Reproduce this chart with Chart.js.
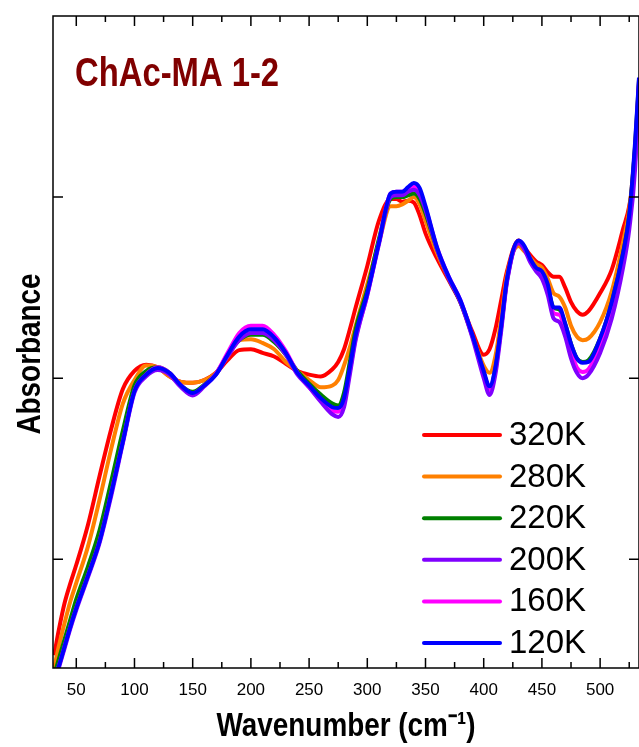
<!DOCTYPE html>
<html>
<head>
<meta charset="utf-8">
<script src="https://cdn.jsdelivr.net/npm/chart.js@4.4.1/dist/chart.umd.min.js"></script>
<style>
  html, body { margin: 0; padding: 0; background: #fff; }
  #wrap { width: 639px; height: 747px; }
</style>
</head>
<body>
<div id="wrap"><canvas id="chart"></canvas></div>
<script>
// Data (y in arbitrary absorbance units)
const wavenumber = [31, 35, 40, 45, 50, 60, 70, 80, 90, 100, 110, 120, 130, 140, 150, 160, 170, 180, 190, 200,
  210, 220, 230, 240, 250, 260, 270, 275, 280, 285, 290, 300, 310, 320, 325, 330, 335, 340, 345, 350,
  360, 370, 380, 390, 400, 405, 410, 415, 420, 430, 435, 440, 445, 450, 455, 460, 465, 470, 475, 480,
  485, 490, 500, 510, 520, 525, 530, 533.4];

const abs320K = [0.47, 0.61, 0.76, 0.87, 0.97, 1.19, 1.46, 1.72, 1.94, 2.04, 2.075, 2.06, 2.01, 1.98, 1.975, 1.99, 2.03, 2.10, 2.155, 2.16,
  2.14, 2.12, 2.08, 2.04, 2.02, 2.01, 2.05, 2.09, 2.16, 2.27, 2.39, 2.62, 2.87, 2.99, 2.99, 2.975, 2.98, 2.97, 2.90, 2.80,
  2.66, 2.54, 2.42, 2.26, 2.13, 2.16, 2.27, 2.43, 2.59, 2.76, 2.72, 2.68, 2.645, 2.625, 2.585, 2.56, 2.56, 2.50, 2.42, 2.37,
  2.35, 2.37, 2.47, 2.60, 2.83, 2.95, 3.20, 3.60];
const abs280K = [0.40, 0.52, 0.65, 0.77, 0.87, 1.07, 1.33, 1.61, 1.86, 1.99, 2.07, 2.06, 2.01, 1.98, 1.975, 1.99, 2.03, 2.12, 2.21, 2.215,
  2.195, 2.16, 2.09, 2.04, 1.99, 1.95, 1.96, 1.99, 2.07, 2.17, 2.29, 2.52, 2.75, 2.95, 2.95, 2.96, 2.98, 3.00, 2.96, 2.87,
  2.69, 2.55, 2.42, 2.24, 2.07, 2.03, 2.12, 2.33, 2.57, 2.73, 2.70, 2.665, 2.63, 2.61, 2.55, 2.47, 2.45, 2.39, 2.29, 2.23,
  2.21, 2.22, 2.31, 2.48, 2.76, 2.93, 3.27, 3.63];
const abs220K = [0.36, 0.45, 0.56, 0.67, 0.78, 0.96, 1.16, 1.43, 1.71, 1.96, 2.04, 2.06, 2.03, 1.96, 1.925, 1.965, 2.025, 2.13, 2.21, 2.24,
  2.24, 2.20, 2.13, 2.04, 1.97, 1.91, 1.86, 1.85, 1.92, 2.09, 2.27, 2.49, 2.77, 2.99, 3.00, 3.00, 3.01, 3.02, 2.99, 2.91,
  2.71, 2.55, 2.42, 2.24, 2.03, 1.945, 2.05, 2.28, 2.54, 2.75, 2.72, 2.65, 2.60, 2.58, 2.50, 2.39, 2.38, 2.30, 2.19, 2.11,
  2.09, 2.10, 2.22, 2.42, 2.70, 2.90, 3.28, 3.65];
const abs200K = [0.32, 0.40, 0.51, 0.62, 0.72, 0.90, 1.09, 1.35, 1.64, 1.92, 2.01, 2.045, 2.02, 1.95, 1.905, 1.955, 2.02, 2.12, 2.21, 2.25,
  2.25, 2.21, 2.13, 2.02, 1.95, 1.87, 1.80, 1.786, 1.84, 2.02, 2.21, 2.46, 2.74, 3.00, 3.01, 3.01, 3.03, 3.04, 3.01, 2.93,
  2.71, 2.55, 2.42, 2.23, 2.00, 1.907, 2.02, 2.26, 2.53, 2.745, 2.71, 2.64, 2.59, 2.55, 2.46, 2.33, 2.31, 2.23, 2.11, 2.03,
  2.00, 2.02, 2.14, 2.33, 2.62, 2.82, 3.15, 3.62];
const abs160K = [0.33, 0.41, 0.52, 0.63, 0.73, 0.91, 1.10, 1.365, 1.65, 1.93, 2.02, 2.06, 2.03, 1.96, 1.915, 1.96, 2.025, 2.14, 2.25, 2.29,
  2.29, 2.24, 2.15, 2.03, 1.95, 1.88, 1.82, 1.815, 1.87, 2.04, 2.22, 2.46, 2.75, 3.02, 3.03, 3.03, 3.05, 3.06, 3.03, 2.94,
  2.72, 2.56, 2.43, 2.24, 2.02, 1.93, 2.04, 2.28, 2.54, 2.75, 2.72, 2.65, 2.60, 2.57, 2.49, 2.36, 2.35, 2.27, 2.15, 2.06,
  2.035, 2.05, 2.18, 2.38, 2.66, 2.86, 3.24, 3.64];
const abs120K = [0.33, 0.41, 0.52, 0.63, 0.73, 0.91, 1.10, 1.365, 1.65, 1.93, 2.02, 2.057, 2.03, 1.96, 1.918, 1.96, 2.02, 2.13, 2.23, 2.27,
  2.27, 2.225, 2.14, 2.03, 1.96, 1.89, 1.84, 1.835, 1.89, 2.06, 2.24, 2.47, 2.75, 3.02, 3.03, 3.03, 3.055, 3.078, 3.05, 2.95,
  2.72, 2.56, 2.43, 2.245, 2.04, 1.955, 2.06, 2.29, 2.55, 2.76, 2.73, 2.66, 2.61, 2.59, 2.52, 2.39, 2.39, 2.30, 2.19, 2.11,
  2.085, 2.09, 2.22, 2.42, 2.70, 2.90, 3.30, 3.66];

const seriesLabels = ['320K', '280K', '220K', '200K', '160K', '120K'];
const seriesValues = [abs320K, abs280K, abs220K, abs200K, abs160K, abs120K];
const seriesColors = ['#ff0000', '#ff8000', '#008000', '#8000ff', '#ff00ff', '#0000ff'];
const drawOrder = [5, 4, 3, 1, 2, 0];   // blue on top

const xTickValues = [50, 100, 150, 200, 250, 300, 350, 400, 450, 500];
const xMinorValues = [75, 125, 175, 225, 275, 325, 375, 425, 475, 525];
const yTickValues = [1, 2, 3];
const panelLabel = 'ChAc-MA 1-2';
const xTitle = 'Wavenumber (cm⁻¹)';
const yTitle = 'Absorbance';

// Narrow bold face for titles; squeeze a normal face if the narrow one is missing
function hasFont(name) {
  const c = document.createElement('canvas').getContext('2d');
  c.font = '40px monospace';
  const a = c.measureText('ChAc-MA Wavenumber').width;
  c.font = `40px "${name}", monospace`;
  return c.measureText('ChAc-MA Wavenumber').width !== a;
}
const narrow = hasFont('Liberation Sans Narrow');
const titleFamily = narrow ? '"Liberation Sans Narrow", sans-serif' : '"Liberation Sans", Arial, sans-serif';
const squeeze = narrow ? 1 : 0.82;
const plainFamily = '"Liberation Sans", Arial, sans-serif';

function narrowText(ctx, text, x, y, size, color, rot) {
  ctx.save();
  ctx.translate(x, y);
  if (rot) ctx.rotate(rot);
  ctx.scale(squeeze, 1);
  ctx.font = `bold ${size}px ${titleFamily}`;
  ctx.fillStyle = color;
  ctx.fillText(text, 0, 0);
  ctx.restore();
}

// Box frame with inward ticks, titles, panel label and legend
const framePlugin = {
  id: 'frame',
  afterDatasetsDraw(chart) {
    const { ctx, chartArea: a, scales: { x, y } } = chart;
    ctx.save();
    ctx.strokeStyle = '#000';
    ctx.lineWidth = 1.5;
    ctx.strokeRect(a.left, a.top, a.right - a.left, a.bottom - a.top);

    ctx.beginPath();
    const tick = (v, len) => {
      const px = x.getPixelForValue(v);
      if (px < a.left || px > a.right) return;
      ctx.moveTo(px, a.bottom); ctx.lineTo(px, a.bottom - len);
      ctx.moveTo(px, a.top); ctx.lineTo(px, a.top + len);
    };
    xTickValues.forEach(v => tick(v, 10));
    xMinorValues.forEach(v => tick(v, 6));
    yTickValues.forEach(v => {
      const py = y.getPixelForValue(v);
      ctx.moveTo(a.left, py); ctx.lineTo(a.left + 10, py);
      ctx.moveTo(a.right, py); ctx.lineTo(a.right - 10, py);
    });
    ctx.stroke();

    ctx.textBaseline = 'alphabetic';
    ctx.textAlign = 'center';
    narrowText(ctx, xTitle, (a.left + a.right) / 2, 736, 34, '#000', 0);
    narrowText(ctx, yTitle, 40, 354, 34, '#000', -Math.PI / 2);
    ctx.textAlign = 'left';
    narrowText(ctx, panelLabel, a.left + 22, a.top + 70, 40, '#800000', 0);

    // legend
    ctx.font = `33px ${plainFamily}`;
    ctx.textBaseline = 'middle';
    ctx.lineWidth = 4;
    ctx.lineCap = 'round';
    chart.data.datasets.forEach((ds, i) => {
      const ly = 435 + i * 41.6;
      ctx.strokeStyle = ds.borderColor;
      ctx.beginPath();
      ctx.moveTo(424, ly); ctx.lineTo(500, ly);
      ctx.stroke();
      ctx.fillStyle = '#000';
      ctx.fillText(ds.label, 509, ly + 1);
    });
    ctx.restore();
  }
};

const datasets = seriesLabels.map((label, i) => ({
  label,
  data: wavenumber.map((w, j) => ({ x: w, y: seriesValues[i][j] })),
  borderColor: seriesColors[i],
  borderWidth: 4,
  pointRadius: 0,
  cubicInterpolationMode: 'monotone',
  order: drawOrder[i],
  fill: false
}));

new Chart(document.getElementById('chart'), {
  type: 'line',
  data: { datasets },
  options: {
    responsive: true,
    maintainAspectRatio: false,
    animation: false,
    devicePixelRatio: 1,
    layout: { padding: { top: 16, right: 0, bottom: 0, left: 0 } },
    plugins: { legend: { display: false }, tooltip: { enabled: false } },
    scales: {
      x: {
        type: 'linear',
        min: 30,
        max: 533.4,
        afterBuildTicks: s => { s.ticks = xTickValues.map(v => ({ value: v })); },
        afterFit: s => { s.height = 79; },
        grid: { display: false },
        border: { display: false },
        ticks: {
          autoSkip: false,
          maxRotation: 0,
          padding: 4,
          color: '#000',
          font: { family: plainFamily, size: 17 }
        }
      },
      y: {
        min: 0.4,
        max: 4.0,
        afterBuildTicks: s => { s.ticks = yTickValues.map(v => ({ value: v })); },
        afterFit: s => { s.width = 53; },
        grid: { display: false },
        border: { display: false },
        ticks: { display: false }
      }
    }
  },
  plugins: [framePlugin]
});
</script>
</body>
</html>
